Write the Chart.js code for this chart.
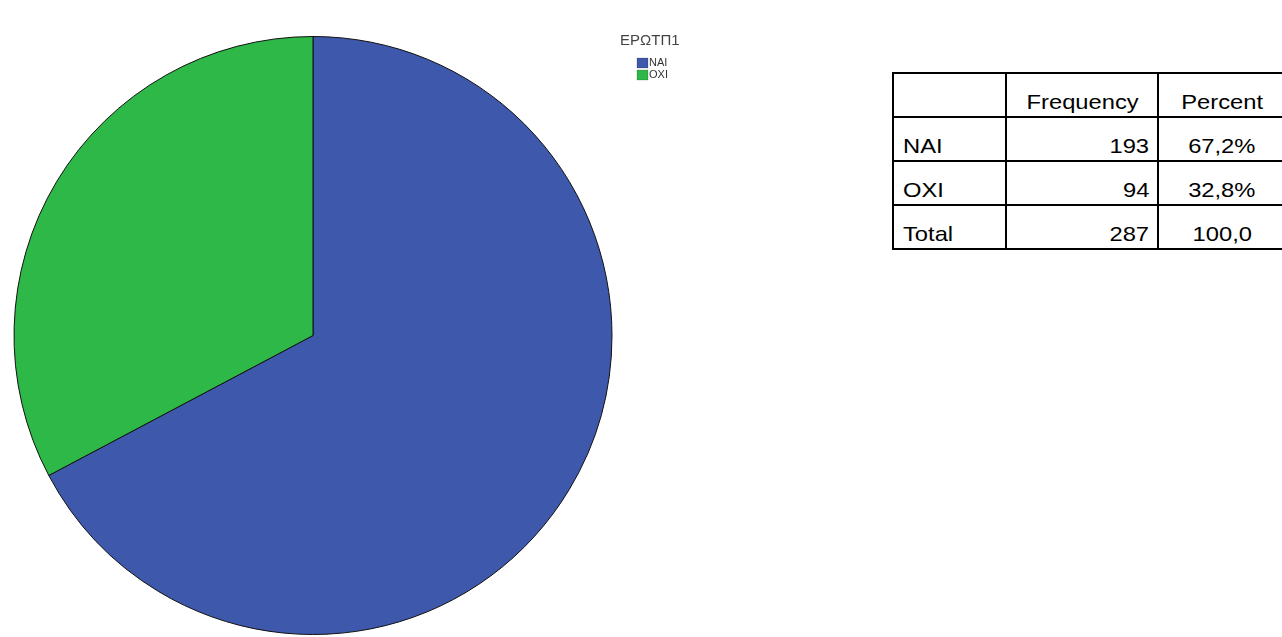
<!DOCTYPE html>
<html>
<head>
<meta charset="utf-8">
<script src="https://cdn.jsdelivr.net/npm/chart.js@4"></script>
<style>
    html, body { margin: 0; padding: 0; background: #fff; overflow: hidden; }
    body { width: 1282px; height: 637px; position: relative; font-family: "Liberation Sans", Arial, sans-serif; }
    #pie-wrap { position: absolute; left: 0; top: 0; width: 760px; height: 637px; }
    #freq-table {
        position: absolute; left: 892px; top: 72px; width: max-content;
        border-collapse: collapse; font-size: 21px; color: #000;
    }
    #freq-table td {
        border: 2px solid #000; height: 39px; padding: 0 8px 3px 9px;
        vertical-align: bottom; line-height: 22px;
    }
    #freq-table td span { display: inline-block; transform: scaleX(1.13); }
    #freq-table td.c0 { width: 94px; text-align: left; }
    #freq-table td.c0 span { transform-origin: left; }
    #freq-table td.c1 { width: 133px; text-align: right; }
    #freq-table td.c1 span { transform-origin: right; }
    #freq-table td.c1.head { text-align: center; }
    #freq-table td.c1.head span { transform-origin: center; }
    #freq-table td.c2 { width: 108px; text-align: center; border-right: none; }
</style>
</head>
<body>
<div id="pie-wrap"><canvas id="pie-canvas"></canvas></div>
<table id="freq-table"></table>

<script>
const legendTitle = 'ΕΡΩΤΠ1';
const labels = ['NAI', 'OXI'];
const frequency = [193, 94];
const percentText = ['67,2%', '32,8%'];
const totalLabel = 'Total';
const totalFrequency = 287;
const totalPercent = '100,0';
const columnHeads = ['', 'Frequency', 'Percent'];
const sliceColors = ['#3E58AC', '#2EB848'];

// frequency table next to the pie
function buildTable() {
    const table = document.getElementById('freq-table');
    const rows = [columnHeads];
    labels.forEach((l, i) => rows.push([l, String(frequency[i]), percentText[i]]));
    rows.push([totalLabel, String(totalFrequency), totalPercent]);
    rows.forEach((row, r) => {
        const tr = document.createElement('tr');
        row.forEach((cell, c) => {
            const td = document.createElement('td');
            td.className = 'c' + c + (r === 0 ? ' head' : '');
            const span = document.createElement('span');
            span.textContent = cell;
            td.appendChild(span);
            tr.appendChild(td);
        });
        table.appendChild(tr);
    });
}

// small SPSS-style legend drawn to the right of the pie
const sideLegend = {
    id: 'sideLegend',
    afterDraw(chart) {
        const ctx = chart.ctx;
        ctx.save();
        ctx.fillStyle = '#444';
        ctx.font = '15px "Liberation Sans", Arial, sans-serif';
        ctx.textBaseline = 'middle';
        ctx.fillText(legendTitle, 620, 41);
        ctx.font = '11px "Liberation Sans", Arial, sans-serif';
        labels.forEach((l, i) => {
            const y = 63 + i * 12;
            ctx.fillStyle = sliceColors[i];
            ctx.fillRect(637, y - 5, 11, 10);
            ctx.strokeStyle = 'rgba(0,0,0,0.35)';
            ctx.lineWidth = 0.5;
            ctx.strokeRect(637, y - 5, 11, 10);
            ctx.fillStyle = '#333';
            ctx.fillText(l, 649, y);
        });
        ctx.restore();
    }
};

buildTable();

new Chart(document.getElementById('pie-canvas').getContext('2d'), {
    type: 'pie',
    data: {
        labels: labels,
        datasets: [{
            data: frequency,
            backgroundColor: sliceColors,
            borderColor: '#111',
            borderWidth: 1
        }]
    },
    options: {
        responsive: true,
        maintainAspectRatio: false,
        animation: false,
        layout: { padding: { left: 13, top: 36, right: 147, bottom: 2 } },
        plugins: {
            legend: { display: false },
            tooltip: { enabled: false }
        }
    },
    plugins: [sideLegend]
});
</script>
</body>
</html>
